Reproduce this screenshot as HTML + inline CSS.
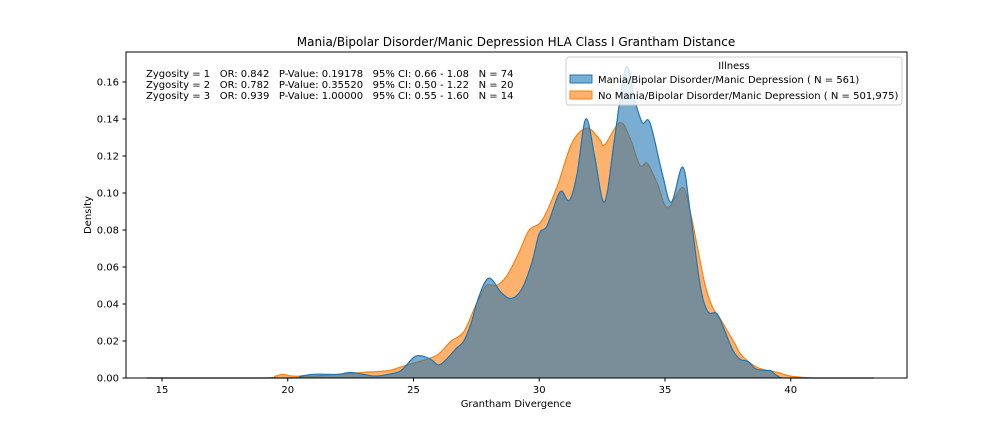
<!DOCTYPE html>
<html><head><meta charset="utf-8"><style>
body{margin:0;background:#fff}
svg{font-family:"DejaVu Sans","Liberation Sans",sans-serif}
</style></head><body>
<svg id="chart" width="1008" height="432" xmlns="http://www.w3.org/2000/svg">
<rect width="1008" height="432" fill="#fff"/>
<text x="516" y="46" font-size="12" text-anchor="middle">Mania/Bipolar Disorder/Manic Depression HLA Class I Grantham Distance</text>
<g id="plot"></g>
<rect x="126" y="52" width="781" height="326" fill="none" stroke="#000" stroke-width="1"/>
<g id="xt"></g>
<g id="yt"></g>
<text x="516" y="407" font-size="10" text-anchor="middle">Grantham Divergence</text>
<text transform="translate(91,215) rotate(-90)" font-size="10" text-anchor="middle">Density</text>
<g font-size="10">
<text x="146" y="77" xml:space="preserve">Zygosity = 1   OR: 0.842   P-Value: 0.19178   95% CI: 0.66 - 1.08   N = 74</text>
<text x="146" y="88" xml:space="preserve">Zygosity = 2   OR: 0.782   P-Value: 0.35520   95% CI: 0.50 - 1.22   N = 20</text>
<text x="146" y="99" xml:space="preserve">Zygosity = 3   OR: 0.939   P-Value: 1.00000   95% CI: 0.55 - 1.60   N = 14</text>
</g>
<g>
<rect x="566" y="57" width="336" height="48" rx="3" fill="#fff" fill-opacity="0.8" stroke="#ccc"/>
<text x="734" y="69" font-size="10" text-anchor="middle">Illness</text>
<g>
<rect x="570" y="75" width="22" height="8" fill="#1f77b4" fill-opacity="0.6" stroke="#1f77b4"/>
<text x="598" y="83" font-size="10">Mania/Bipolar Disorder/Manic Depression ( N = 561)</text></g>
<g>
<rect x="570" y="91" width="22" height="8" fill="#ff7f0e" fill-opacity="0.6" stroke="#ff7f0e"/>
<text x="598" y="99" font-size="10">No Mania/Bipolar Disorder/Manic Depression ( N = 501,975)</text></g>
</g>
</svg>
<script>
const xTicks=[15,20,25,30,35,40];
const yTicks=[0,0.02,0.04,0.06,0.08,0.10,0.12,0.14,0.16];
const yTickLabels=["0.00","0.02","0.04","0.06","0.08","0.10","0.12","0.14","0.16"];
const maniaX=[14.4,20,20.5,21,21.5,22,22.5,23,23.5,24,24.5,25,25.3,25.7,26,26.3,26.7,27,27.3,27.6,28,28.5,28.9,29.3,29.7,30,30.3,30.7,30.9,31.2,31.5,31.85,32.2,32.5,32.7,33,33.45,33.8,34.1,34.4,34.9,35.25,35.7,36,36.4,36.7,37.05,37.3,37.7,38,38.3,38.6,39,39.2,39.5,40,43.3];
const maniaD=[0,0,0.001,0.002,0.002,0.002,0.003,0.002,0.001,0.002,0.004,0.011,0.012,0.01,0.007,0.01,0.016,0.02,0.03,0.044,0.054,0.046,0.043,0.048,0.062,0.078,0.082,0.097,0.101,0.096,0.11,0.14,0.12,0.097,0.1,0.13,0.168,0.15,0.138,0.138,0.11,0.095,0.114,0.09,0.05,0.036,0.035,0.028,0.015,0.01,0.009,0.005,0.004,0.004,0.001,0,0];
const noManiaX=[14.4,19,19.5,19.8,20.2,21,22,23,24,24.5,25,25.5,26,26.5,27,27.5,27.9,28.3,28.7,29.2,29.6,30.1,30.7,31.3,31.9,32.4,32.6,33.2,33.6,34.0,34.3,34.7,35.1,35.7,36.0,36.3,36.6,36.9,37.2,37.5,37.8,38.0,38.4,38.8,39.5,40,41,43.3];
const noManiaD=[0,0,0.001,0.002,0.001,0.001,0.002,0.003,0.004,0.006,0.008,0.01,0.013,0.02,0.025,0.04,0.05,0.05,0.055,0.068,0.08,0.085,0.103,0.127,0.135,0.129,0.126,0.138,0.13,0.115,0.116,0.105,0.092,0.103,0.09,0.07,0.05,0.038,0.032,0.025,0.018,0.013,0.008,0.005,0.003,0.001,0,0];
const NS="http://www.w3.org/2000/svg";
const xs=v=>162+(v-15)*25.15;
const ys=d=>378-d*1850;
function mk(tag,attrs,parent){const e=document.createElementNS(NS,tag);for(const k in attrs)e.setAttribute(k,attrs[k]);parent.appendChild(e);return e;}
function curve(X,D){
  const p=X.map((x,i)=>[xs(x),ys(D[i])]);
  let s=`M${p[0][0]},${p[0][1]}`;
  for(let i=0;i<p.length-1;i++){
    const p0=p[Math.max(0,i-1)],p1=p[i],p2=p[i+1],p3=p[Math.min(p.length-1,i+2)];
    let c1y=p1[1]+(p2[1]-p0[1])/6, c2y=p2[1]-(p3[1]-p1[1])/6;
    c1y=Math.min(c1y,378);c2y=Math.min(c2y,378);
    s+=` C${p1[0]+(p2[0]-p0[0])/6},${c1y} ${p2[0]-(p3[0]-p1[0])/6},${c2y} ${p2[0]},${p2[1]}`;
  }
  return s;
}
const plot=document.getElementById('plot');
const cm=curve(maniaX,maniaD), cn=curve(noManiaX,noManiaD);
const fn=mk('path',{d:cn+` L${xs(noManiaX[noManiaX.length-1])},378 L${xs(noManiaX[0])},378 Z`,fill:'#ff7f0e','fill-opacity':0.6},plot);


const ln=mk('path',{d:cn,fill:'none',stroke:'#ff7f0e','stroke-width':1.2},plot);


const fm=mk('path',{d:cm+` L${xs(maniaX[maniaX.length-1])},378 L${xs(maniaX[0])},378 Z`,fill:'#1f77b4','fill-opacity':0.6},plot);


const lm=mk('path',{d:cm,fill:'none',stroke:'#1f77b4','stroke-width':1.2},plot);


const xt=document.getElementById('xt');
xTicks.forEach(v=>{
  const t=mk('line',{x1:xs(v),x2:xs(v),y1:378,y2:381.5,stroke:'#000'},xt);
  
  
  const l=mk('text',{x:xs(v),y:393,'font-size':10,'text-anchor':'middle'},xt);
  l.textContent=v;
  
  
});
const yt=document.getElementById('yt');
yTicks.forEach((v,i)=>{
  const t=mk('line',{x1:122.5,x2:126,y1:ys(v),y2:ys(v),stroke:'#000'},yt);
  
  
  const l=mk('text',{x:119,y:ys(v)+3.5,'font-size':10,'text-anchor':'end'},yt);
  l.textContent=yTickLabels[i];
  
  
});
</script>
</body></html>
